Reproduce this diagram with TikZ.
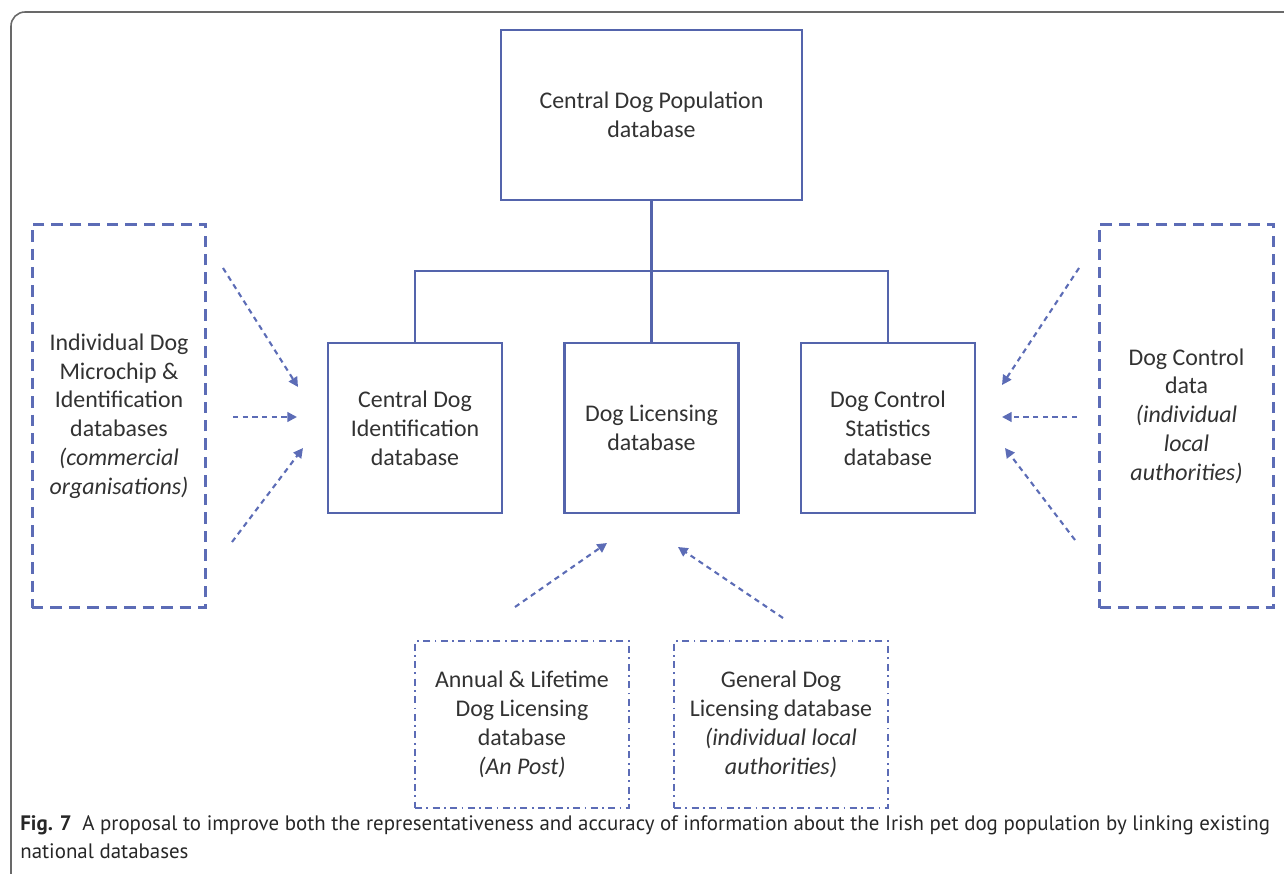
\documentclass[tikz,border=0pt]{standalone}
\usepackage{fontspec}
\setmainfont{Carlito}
\newfontfamily\capfont{PT Sans}
\usetikzlibrary{arrows.meta}
\definecolor{dbblue}{RGB}{84,100,172}
\definecolor{dashblue}{RGB}{92,108,182}
\definecolor{textgrey}{RGB}{50,50,50}
\definecolor{framegrey}{RGB}{105,105,105}

\begin{document}
\begin{tikzpicture}[x=0.02cm, y=-0.02cm,
    every node/.style={text=textgrey, font=\fontsize{13.6}{16.4}\selectfont, align=center, inner sep=0pt},
    db/.style={draw=dbblue, line width=1.4pt, minimum width=3.48cm, minimum height=3.4cm},
    source/.style={draw=dashblue, line width=1.7pt, dash pattern=on 6.5pt off 4pt, minimum width=3.48cm, minimum height=7.68cm},
    licsource/.style={draw=dashblue, line width=1.1pt, dash pattern=on 4pt off 2.5pt on 1pt off 2.5pt, minimum width=4.28cm, minimum height=3.34cm},
    link/.style={draw=dbblue, line width=1.2pt},
    feed/.style={draw=dashblue, line width=1.2pt, dash pattern=on 3pt off 2.5pt, -{Triangle[length=5.5pt, width=5.5pt]}}]

    \useasboundingbox (0,0) rectangle (1284,874);
    \draw[framegrey, line width=0.9pt, rounded corners=8] (11,874) -- (11,12) -- (1284,12);

    % Databases
    \node[db, minimum width=6.02cm] (popdb) at (651.5,115) {Central Dog Population\\database};
    \node[db] (iddb) at (415,428) {Central Dog\\Identification\\database};
    \node[db] (licdb) at (651.5,428) {Dog Licensing\\database};
    \node[db] (ctrldb) at (888,428) {Dog Control\\Statistics\\database};

    \coordinate (bus) at (651.5,271);
    \draw[link] (popdb) -- (licdb);
    \draw[link] (iddb.north) |- (bus) -| (ctrldb.north);

    % Sources
    \node[source] (chipdb) at (119,416) {Individual Dog\\Microchip \&\\Identification\\databases\\\textit{(commercial}\\\textit{organisations)}};
    \node[source] (ctrldata) at (1186.5,416) {Dog Control\\data\\\textit{(individual}\\\textit{local}\\\textit{authorities)}};
    \node[licsource] (postdb) at (522,724.5) {Annual \& Lifetime\\Dog Licensing\\database\\\textit{(An Post)}};
    \node[licsource] (genlicdb) at (781,724.5) {General Dog\\Licensing database\\\textit{(individual local}\\\textit{authorities)}};

    \coordinate (chipa) at (223,268);
    \coordinate (chipb) at (233,417);
    \coordinate (chipc) at (232,542);
    \coordinate (ida) at (298,387);
    \coordinate (idb) at (297,417);
    \coordinate (idc) at (303,448);
    \draw[feed] (chipa) -- (ida);
    \draw[feed] (chipb) -- (idb);
    \draw[feed] (chipc) -- (idc);

    \coordinate (ctrla) at (1079,268);
    \coordinate (ctrlb) at (1077,417);
    \coordinate (ctrlc) at (1075,540);
    \coordinate (stata) at (1002,385);
    \coordinate (statb) at (1002,417);
    \coordinate (statc) at (1005,448);
    \draw[feed] (ctrla) -- (stata);
    \draw[feed] (ctrlb) -- (statb);
    \draw[feed] (ctrlc) -- (statc);

    \coordinate (posta) at (515,607);
    \coordinate (genlica) at (783,618);
    \coordinate (lica) at (607,543);
    \coordinate (licb) at (678,547);
    \draw[feed] (posta) -- (lica);
    \draw[feed] (genlica) -- (licb);

    \node[anchor=west, align=left, text=black!85, font=\capfont\fontsize{11.9}{16}\selectfont] (figcap) at (20,837)
        {\textbf{Fig. 7}\enspace A proposal to improve both the representativeness and accuracy of information about the Irish pet dog population by linking existing\\national databases};
\end{tikzpicture}
\end{document}
